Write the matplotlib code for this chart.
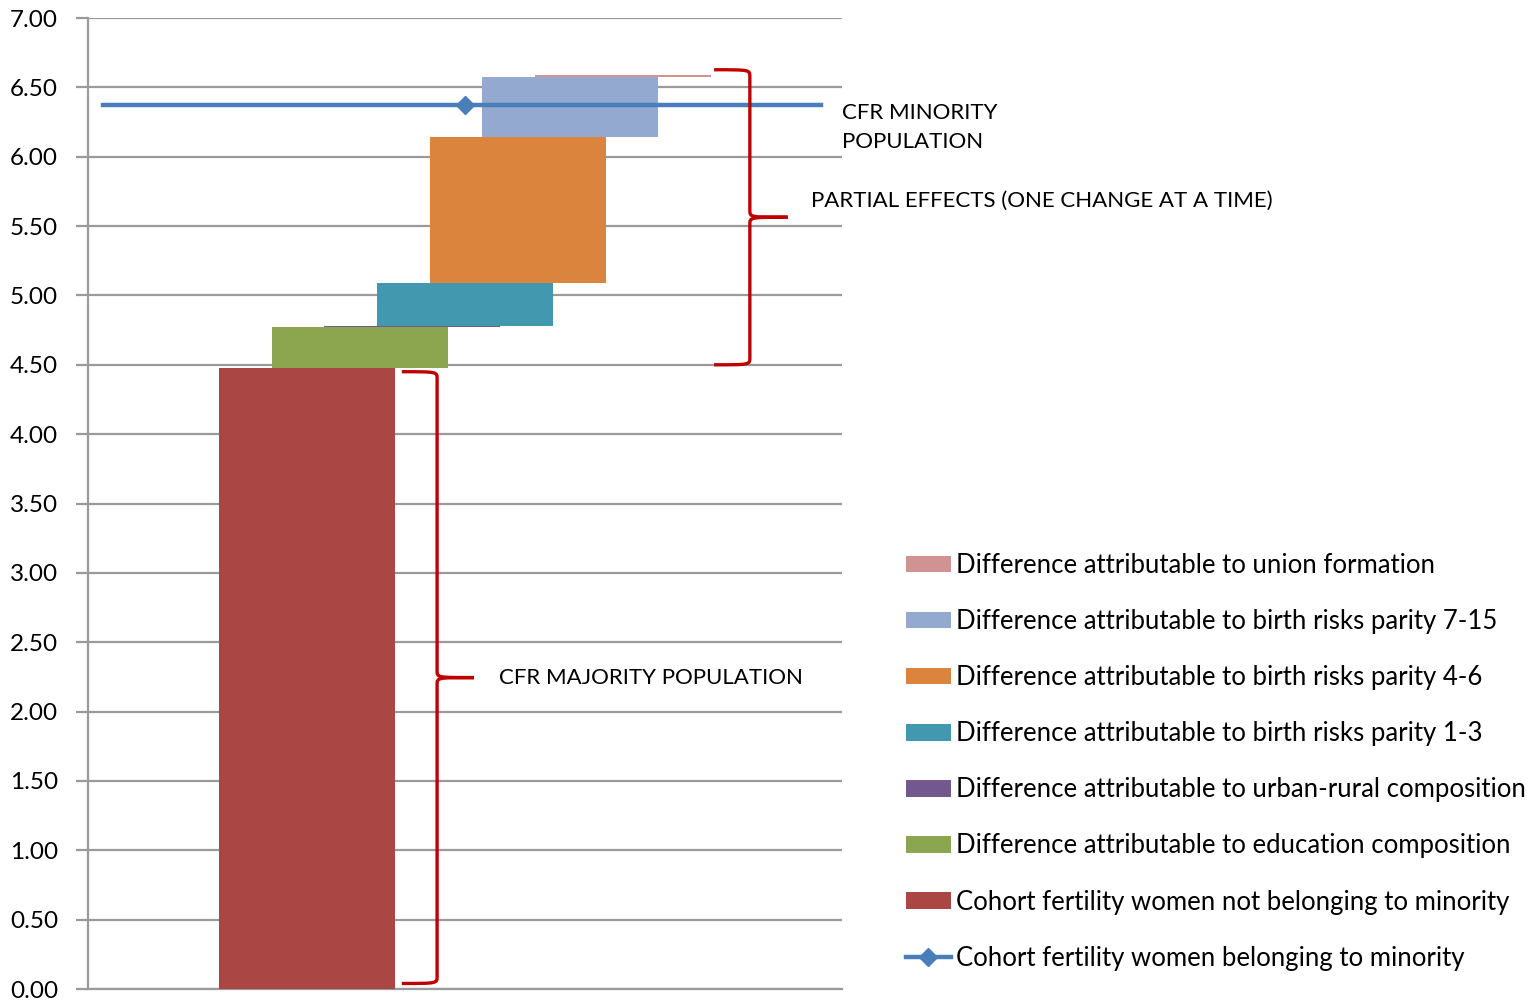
import numpy as np
import matplotlib
matplotlib.use("Agg")
import matplotlib.pyplot as plt
from matplotlib.path import Path
from matplotlib.patches import PathPatch, Patch
from matplotlib.lines import Line2D

plt.rcParams['font.family'] = ['Lato', 'DejaVu Sans']

# Decomposition of cohort fertility (CFR) between majority and minority women
majority_cfr = 4.48
minority_cfr = 6.37
effect_labels = [
    "Difference attributable to education composition",
    "Difference attributable to urban-rural composition",
    "Difference attributable to birth risks parity 1-3",
    "Difference attributable to birth risks parity 4-6",
    "Difference attributable to birth risks parity 7-15",
    "Difference attributable to union formation",
]
effect_values = [0.29, 0.012, 0.31, 1.05, 0.43, 0.015]
majority_label = "Cohort fertility women not belonging to minority"
minority_label = "Cohort fertility women belonging to minority"

bar_colors = ["#AA4744", "#8BA64E", "#71588F", "#4198AF",
              "#DB843D", "#93A9CF", "#D09392"]
line_color = "#4A7EBB"
brace_color = "#C00000"
grid_color = "#9A9A9A"

fig = plt.figure(figsize=(15.33, 10), dpi=100)
ax = fig.add_axes([88 / 1533, 11 / 1000, 754 / 1533, 971 / 1000])

# Waterfall: majority level, then each partial effect stacked on the previous top
heights = [majority_cfr] + effect_values
bottoms = np.concatenate([[0.0], np.cumsum(heights)[:-1]])
xpos = np.arange(len(heights), dtype=float)
bar_width = 3.34
for x, b, h, c in zip(xpos, bottoms, heights, bar_colors):
    ax.bar(x, h, bottom=b, width=bar_width, color=c, linewidth=0, zorder=3)

x_lo, x_hi = -4.16, 10.16
ax.set_xlim(x_lo, x_hi)
ax.set_ylim(0, 7)

# Minority level as a horizontal line with a single marker in the middle
line_x = [x_lo + 0.29, xpos[3], x_hi - 0.40]
ax.plot(line_x, [minority_cfr] * 3, color=line_color, lw=3.2, zorder=4,
        marker="D", markersize=9, markevery=[1], markerfacecolor="#4A7EBB",
        markeredgecolor="#4A7EBB")

# Axes styling
ax.set_yticks(np.arange(0, 7.01, 0.5))
ax.set_yticklabels([f"{v:.2f}" for v in np.arange(0, 7.01, 0.5)], fontsize=17.5)
ax.set_xticks([])
ax.yaxis.grid(True, color=grid_color, lw=1.6, zorder=0)
ax.tick_params(axis="y", length=9, width=1.6, color=grid_color, pad=12.5)
for s in ["top", "right"]:
    ax.spines[s].set_visible(False)
for s in ["left", "bottom"]:
    ax.spines[s].set_color(grid_color)
    ax.spines[s].set_linewidth(1.6)


def brace(x_end, x_spine, x_tip, y_bot, y_top, h=0.05):
    y_mid = (y_bot + y_top) / 2
    verts = [
        (x_end, y_top), (x_spine, y_top), (x_spine, y_top), (x_spine, y_top - h),
        (x_spine, y_mid + h),
        (x_spine, y_mid), (x_spine, y_mid), (x_tip, y_mid),
        (x_spine, y_mid), (x_spine, y_mid), (x_spine, y_mid - h),
        (x_spine, y_bot + h),
        (x_spine, y_bot), (x_spine, y_bot), (x_end, y_bot),
    ]
    codes = [Path.MOVETO, Path.CURVE4, Path.CURVE4, Path.CURVE4,
             Path.LINETO,
             Path.CURVE4, Path.CURVE4, Path.CURVE4,
             Path.CURVE4, Path.CURVE4, Path.CURVE4,
             Path.LINETO,
             Path.CURVE4, Path.CURVE4, Path.CURVE4]
    ax.add_patch(PathPatch(Path(verts, codes), fill=False, edgecolor=brace_color,
                           lw=2.4, zorder=5, clip_on=False, capstyle="butt"))
    return y_mid


mid_lo = brace(1.80, 2.47, 3.17, 0.04, majority_cfr - 0.03)
top_all = bottoms[-1] + heights[-1]
mid_hi = brace(7.73, 8.41, 9.13, 4.50, top_all + 0.04)

ax.text(3.64, mid_lo, "CFR MAJORITY POPULATION", fontsize=16, va="center",
        ha="left", zorder=6)
ax.text(9.13 + 0.44, mid_hi + 0.12, "PARTIAL EFFECTS (ONE CHANGE AT A TIME)",
        fontsize=16, va="center", ha="left", clip_on=False)
ax.text(x_hi + 0.0, minority_cfr - 0.16, "CFR MINORITY\nPOPULATION", fontsize=16,
        va="center", ha="left", clip_on=False, linespacing=1.56)

# Legend, topmost effect first, line entry last
handles = [Patch(facecolor=c, edgecolor="none") for c in bar_colors[::-1]]
labels = effect_labels[::-1] + [majority_label]
handles.append(Line2D([], [], color=line_color, lw=3.2, marker="D",
                      markersize=9, markerfacecolor=line_color))
labels.append(minority_label)
fig.legend(handles, labels, loc="upper left", bbox_to_anchor=(906 / 1533, 1 - 553 / 1000),
           frameon=False, fontsize=18.5, handlelength=1.75, handleheight=0.62,
           handletextpad=0.2, labelspacing=1.21, borderaxespad=0, borderpad=0)

fig.savefig("out.png", dpi=100)
